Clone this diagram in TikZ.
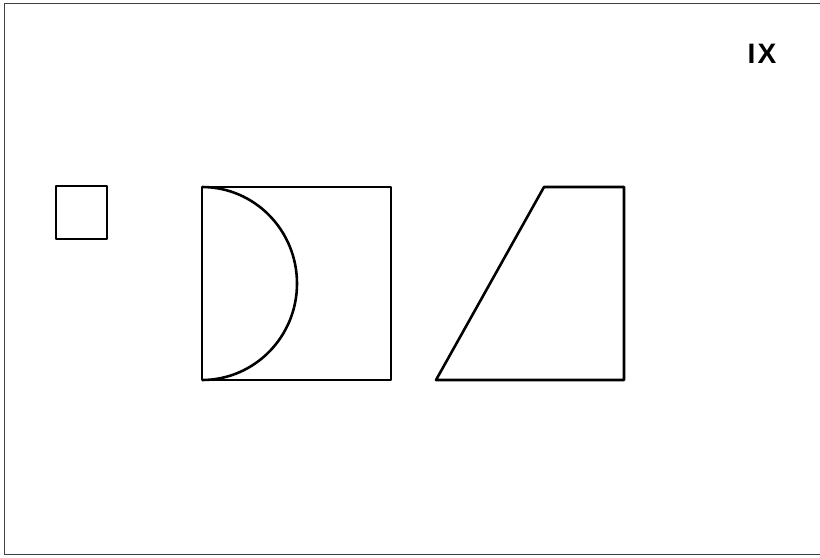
\documentclass[tikz,border=0pt]{standalone}
\usepackage{fontspec}
\setmainfont{Liberation Sans}
\usetikzlibrary{positioning}

\begin{document}
\begin{tikzpicture}[
  x=0.03cm, y=-0.03cm,
  frame/.style={draw=black!75, line width=0.8pt},
  outline/.style={draw=black, line width=2.2pt, line join=round},
  plate/.style={font=\bfseries\fontsize{24}{24}\selectfont, inner sep=0pt}
]
\useasboundingbox (0,0) rectangle (820,557);
\draw[frame] (820,3) -- (4,3) -- (4,554) -- (820,554);

% small square
\draw[outline] (56,186) rectangle (107,239);

% square with half disc
\coordinate (sqtop) at (202,187);
\coordinate (sqbot) at (202,380);
\draw[outline] (sqtop) rectangle (391,380);
\draw[outline] (sqtop) arc[start angle=-90, end angle=90, x radius=95, y radius=96.5];

% trapezoid
\draw[outline] (436,380) -- (544,187) -- (624,187) -- (624,380) -- cycle;

\node[plate] (num) at (762,54) {I\kern2pt X};
\end{tikzpicture}
\end{document}
